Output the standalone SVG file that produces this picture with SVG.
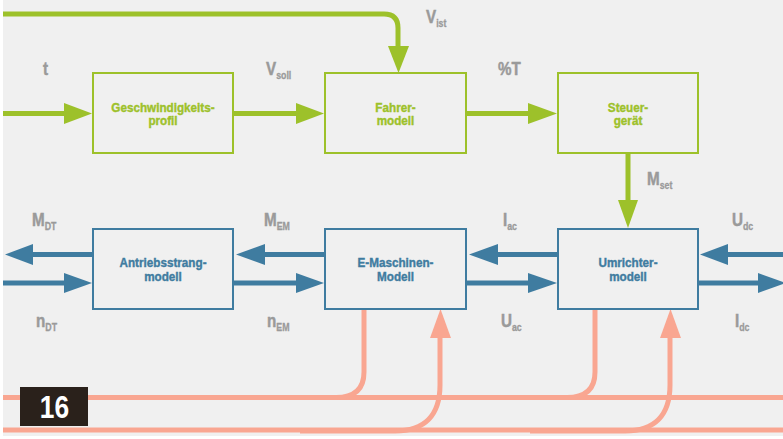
<svg xmlns="http://www.w3.org/2000/svg" width="783" height="439" viewBox="0 0 783 439">
<style>
.bg{fill:#f0f0f0}
.gbox{fill:none;stroke:#9dc12a;stroke-width:2}
.bbox{fill:none;stroke:#3f7ca0;stroke-width:2}
.gl{fill:none;stroke:#9dc12a;stroke-width:5}
.bl{fill:none;stroke:#3f7ca0;stroke-width:5}
.sl{fill:none;stroke:#f9a691;stroke-width:5}
.gh{fill:#9dc12a}
.bh{fill:#3f7ca0}
.sh{fill:#f9a691}
.nt{font-family:"Liberation Sans",Arial,sans-serif;font-weight:bold;font-size:13px;text-anchor:middle;stroke-width:0.4}
.gt{fill:#9dc12a;stroke:#9dc12a}
.bt{fill:#3f7ca0;stroke:#3f7ca0}
.lbl{font-family:"Liberation Sans",Arial,sans-serif;font-weight:bold;font-size:19px;fill:#9a9a9a;stroke:#9a9a9a;stroke-width:0.5}
.sub{font-size:11px;stroke-width:0.3}
</style>
<rect x="0" y="0" width="783" height="439" fill="#ffffff"/>
<rect class="bg" x="3" y="0" width="780" height="436"/>

<g id="connectors">
  <path class="gl" d="M3 14 H384 Q398 14 398 28 V50"/>
  <polygon class="gh" points="388,46 409,46 398.5,73"/>
  <path class="gl" d="M3 113.5 H66"/>
  <polygon class="gh" points="64,103 64,124 92,113.5"/>
  <path class="gl" d="M233 113.5 H298"/>
  <polygon class="gh" points="296,103 296,124 324,113.5"/>
  <path class="gl" d="M466 113.5 H530"/>
  <polygon class="gh" points="528,103 528,124 557,113.5"/>
  <path class="gl" d="M628 153 V203"/>
  <polygon class="gh" points="618,200 638,200 628,228"/>
  <path class="bl" d="M93 254.5 H31"/>
  <polygon class="bh" points="33,244 33,265 5,254.5"/>
  <path class="bl" d="M325 254.5 H263"/>
  <polygon class="bh" points="265,244 265,265 236,254.5"/>
  <path class="bl" d="M558 254.5 H496"/>
  <polygon class="bh" points="498,244 498,265 469,254.5"/>
  <path class="bl" d="M783 254.5 H726"/>
  <polygon class="bh" points="728,244 728,265 700,254.5"/>
  <path class="bl" d="M3 283 H66"/>
  <polygon class="bh" points="64,273 64,293 92,283"/>
  <path class="bl" d="M233 283 H298"/>
  <polygon class="bh" points="296,273 296,293 324,283"/>
  <path class="bl" d="M466 283 H530"/>
  <polygon class="bh" points="528,273 528,293 557,283"/>
  <path class="bl" d="M698 283 H760"/>
  <polygon class="bh" points="758,273 758,293 786,283"/>
  <path class="sl" d="M3 397.5 H783"/>
  <path class="sl" d="M3 430 H783"/>
  <path class="sl" d="M364 309 V372 Q364 397.5 336 397.5"/>
  <path class="sl" d="M595 309 V372 Q595 397.5 567 397.5"/>
  <path class="sl" d="M300 431 H395 C425 431 440 415 440 385 V335"/>
  <polygon class="sh" points="430,338 451,338 440.5,309"/>
  <path class="sl" d="M530 431 H625 C655 431 670 415 670 385 V335"/>
  <polygon class="sh" points="660,338 681,338 670.5,309"/>
</g>

<g id="geschwindigkeitsprofil">
  <rect class="gbox" x="93" y="73" width="140" height="80"/>
  <text class="nt gt" transform="translate(163,111.5) scale(0.9,1)">Geschwindigkeits-</text>
  <text class="nt gt" transform="translate(163,125) scale(0.9,1)">profil</text>
</g>
<g id="fahrermodell">
  <rect class="gbox" x="325" y="73" width="141" height="80"/>
  <text class="nt gt" transform="translate(395.5,111.5) scale(0.9,1)">Fahrer-</text>
  <text class="nt gt" transform="translate(395.5,125) scale(0.9,1)">modell</text>
</g>
<g id="steuergeraet">
  <rect class="gbox" x="558" y="73" width="140" height="80"/>
  <text class="nt gt" transform="translate(628,111.5) scale(0.9,1)">Steuer-</text>
  <text class="nt gt" transform="translate(628,125) scale(0.9,1)">gerät</text>
</g>
<g id="antriebsstrangmodell">
  <rect class="bbox" x="93" y="229" width="140" height="80"/>
  <text class="nt bt" transform="translate(163,267) scale(0.9,1)">Antriebsstrang-</text>
  <text class="nt bt" transform="translate(163,281) scale(0.9,1)">modell</text>
</g>
<g id="emaschinenmodell">
  <rect class="bbox" x="325" y="229" width="141" height="80"/>
  <text class="nt bt" transform="translate(395.5,267) scale(0.9,1)">E-Maschinen-</text>
  <text class="nt bt" transform="translate(395.5,281) scale(0.9,1)">Modell</text>
</g>
<g id="umrichtermodell">
  <rect class="bbox" x="558" y="229" width="140" height="80"/>
  <text class="nt bt" transform="translate(628,267) scale(0.9,1)">Umrichter-</text>
  <text class="nt bt" transform="translate(628,281) scale(0.9,1)">modell</text>
</g>

<g id="labels">
  <text class="lbl" transform="translate(43,75) scale(0.8,1)">t</text>
  <text class="lbl" transform="translate(266,75) scale(0.8,1)">V<tspan class="sub" dy="4">soll</tspan></text>
  <text class="lbl" transform="translate(426,23) scale(0.8,1)">V<tspan class="sub" dy="4">ist</tspan></text>
  <text class="lbl" transform="translate(498,75) scale(0.8,1)">%T</text>
  <text class="lbl" transform="translate(647,185) scale(0.8,1)">M<tspan class="sub" dy="4">set</tspan></text>
  <text class="lbl" transform="translate(32,226) scale(0.8,1)">M<tspan class="sub" dy="4">DT</tspan></text>
  <text class="lbl" transform="translate(264,226) scale(0.8,1)">M<tspan class="sub" dy="4">EM</tspan></text>
  <text class="lbl" transform="translate(503,226) scale(0.8,1)">I<tspan class="sub" dy="4">ac</tspan></text>
  <text class="lbl" transform="translate(732,226) scale(0.8,1)">U<tspan class="sub" dy="4">dc</tspan></text>
  <text class="lbl" transform="translate(36,327) scale(0.8,1)">n<tspan class="sub" dy="4">DT</tspan></text>
  <text class="lbl" transform="translate(267,327) scale(0.8,1)">n<tspan class="sub" dy="4">EM</tspan></text>
  <text class="lbl" transform="translate(501,327) scale(0.8,1)">U<tspan class="sub" dy="4">ac</tspan></text>
  <text class="lbl" transform="translate(735,327) scale(0.8,1)">I<tspan class="sub" dy="4">dc</tspan></text>
</g>

<g id="figure-number">
  <rect x="20" y="387" width="68" height="39" fill="#2a211b"/>
  <text transform="translate(54.5,418) scale(0.85,1)" font-family="Liberation Sans, Arial, sans-serif" font-weight="bold" font-size="31" fill="#ffffff" text-anchor="middle">16</text>
</g>
</svg>
